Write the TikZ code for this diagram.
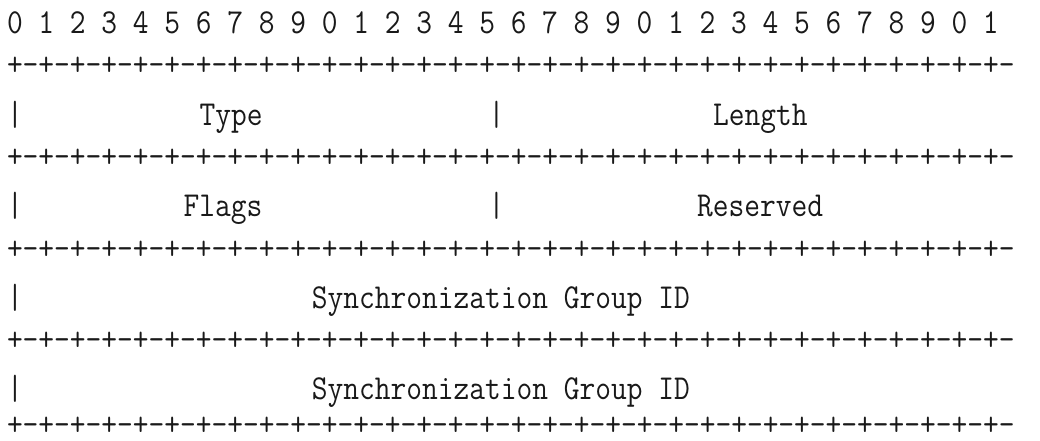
\documentclass[tikz,border=0pt]{standalone}
\usepackage{fontspec}
\usepackage{graphicx}
\newcommand{\sqz}[1]{\scalebox{0.8735}[1]{#1}}
\tikzset{
  asc/.style={anchor=base west, inner sep=0pt, outer sep=0pt, text=black!90,
    font=\ttfamily\fontsize{35}{42}\selectfont}
}
\begin{document}
\begin{tikzpicture}[x=1pt,y=1pt]
\useasboundingbox (0,0) rectangle (1040,440);
% header
\node[asc] (hdr) at (7,406.5) {\sqz{0 1 2 3 4 5 6 7 8 9 0 1 2 3 4 5 6 7 8 9 0 1 2 3 4 5 6 7 8 9 0 1}};
% separators
\foreach \n/\y in {sepa/364,sepb/272.5,sepc/181,sepd/89.5,sepe/4.5}{
  \node[asc] (\n) at (7,\y) {\sqz{+-+-+-+-+-+-+-+-+-+-+-+-+-+-+-+-+-+-+-+-+-+-+-+-+-+-+-+-+-+-+-+-}};
}
% row 1
\node[asc] (barA) at (7,315) {\sqz{|}};
\node[asc] (type) at (199.6,315) {\sqz{Type}};
\node[asc] (midA) at (488.5,315) {\sqz{|}};
\node[asc] (length) at (713.2,315) {\sqz{Length}};
% row 2
\node[asc] (barB) at (7,223.5) {\sqz{|}};
\node[asc] (flags) at (183.55,223.5) {\sqz{Flags}};
\node[asc] (midB) at (488.5,223.5) {\sqz{|}};
\node[asc] (reserved) at (697.15,223.5) {\sqz{Reserved}};
% row 3
\node[asc] (barC) at (7,132) {\sqz{|}};
\node[asc] (sgidA) at (311.95,132) {\sqz{Synchronization Group ID}};
% row 4
\node[asc] (barD) at (7,40.5) {\sqz{|}};
\node[asc] (sgidB) at (311.95,40.5) {\sqz{Synchronization Group ID}};
\end{tikzpicture}
\end{document}
